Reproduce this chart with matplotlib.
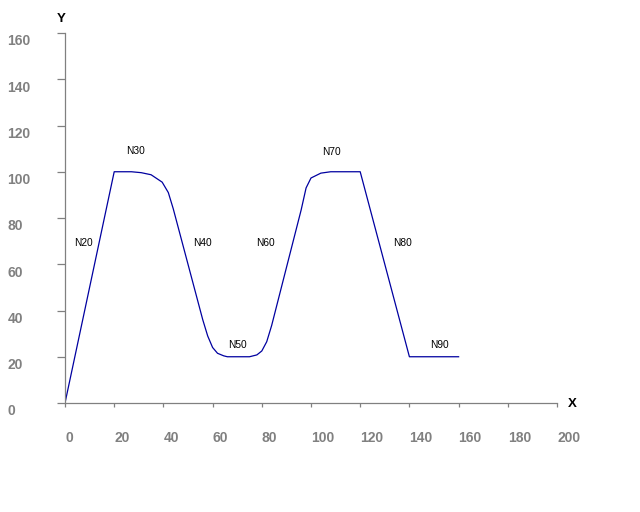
import matplotlib
matplotlib.use('Agg')
import matplotlib.pyplot as plt

plt.rcParams['font.family'] = ['Liberation Sans', 'DejaVu Sans']

# tool path
path_x = [0, 20, 27, 31, 35, 39.5, 42, 44, 56, 58, 60, 62, 64.5, 66, 75, 78, 80, 82, 84, 96, 98, 100, 104, 108, 120, 140, 160]
path_y = [0, 100, 100, 99.6, 98.7, 95.5, 91, 84, 36, 29, 24, 21.5, 20.4, 20, 20, 20.8, 22.5, 26.5, 33.5, 83.5, 93, 97.3, 99.4, 100, 100, 20, 20]

# block labels
blocks = ['N20', 'N30', 'N40', 'N50', 'N60', 'N70', 'N80', 'N90']
block_x = [7.3, 28.5, 55.7, 69.9, 81.3, 108.5, 137, 152.4]
block_y = [69.3, 109, 69.3, 25.1, 69.3, 108.7, 69.3, 25.1]

xticks = [0, 20, 40, 60, 80, 100, 120, 140, 160, 180, 200]
yticks = [0, 20, 40, 60, 80, 100, 120, 140, 160]

GRAY = '#808080'
PX = 0.72  # points per pixel at dpi 100

fig = plt.figure(figsize=(6.4, 5.12), dpi=100)
ax = fig.add_axes([65 / 640, 1 - 403 / 512, 492 / 640, 370 / 512])

ax.plot(path_x, path_y, color='#0000A0', linewidth=0.9)

for name, x, y in zip(blocks, block_x, block_y):
    ax.text(x, y, name, ha='center', va='center', fontsize=7.3, color='black')

ax.set_xlim(0, 200)
ax.set_ylim(0, 160)
for s in ['top', 'right']:
    ax.spines[s].set_visible(False)
for s in ['left', 'bottom']:
    ax.spines[s].set_color(GRAY)
    ax.spines[s].set_linewidth(0.9)

ax.set_xticks(xticks)
ax.set_yticks(yticks)
ax.tick_params(axis='x', direction='out', length=4 * PX, width=0.9, color=GRAY, labelbottom=False)
ax.tick_params(axis='y', direction='out', length=8 * PX, width=0.9, color=GRAY, labelleft=False)

# tick labels, left-aligned like the original
for v in xticks:
    ax.annotate(str(v), xy=(v, 0), xycoords=('data', 'axes fraction'),
                xytext=(0, -39.5 * PX), textcoords='offset points',
                ha='left', va='baseline', fontsize=10, fontweight='bold', color=GRAY,
                annotation_clip=False)
for v in yticks:
    ax.annotate(str(v), xy=(0, v), xycoords=('axes fraction', 'data'),
                xytext=(-57.7 * PX, -12.3 * PX), textcoords='offset points',
                ha='left', va='baseline', fontsize=10, fontweight='bold', color=GRAY,
                annotation_clip=False)

ax.annotate('X', xy=(1, 0), xycoords='axes fraction', xytext=(15 * PX, -1 * PX),
            textcoords='offset points', ha='center', va='center',
            fontsize=9.5, fontweight='bold', color='black', annotation_clip=False)
ax.annotate('Y', xy=(0, 1), xycoords='axes fraction', xytext=(-4 * PX, 14.5 * PX),
            textcoords='offset points', ha='center', va='center',
            fontsize=9.5, fontweight='bold', color='black', annotation_clip=False)

fig.savefig('out.png', dpi=100)
plt.close(fig)
